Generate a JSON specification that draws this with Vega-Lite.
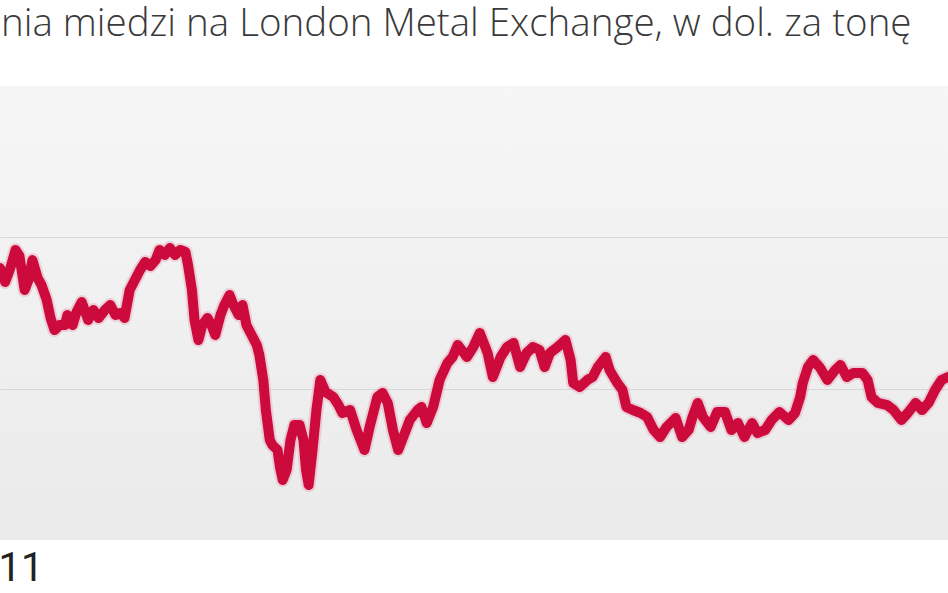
{
  "$schema": "https://vega.github.io/schema/vega-lite/v6.json",
  "width": 948,
  "height": 454,
  "autosize": {"type": "none"},
  "padding": {"top": 86, "left": 0, "right": 0, "bottom": 53},
  "background": "#ffffff",
  "title": {
    "text": "nia miedzi na London Metal Exchange, w dol. za tonę",
    "anchor": "start",
    "frame": "group",
    "orient": "top",
    "baseline": "alphabetic",
    "offset": 12,
    "dx": 1,
    "font": "Open Sans",
    "fontWeight": 300,
    "fontSize": 38.5,
    "color": "#3a3a3a"
  },
  "config": {
    "view": {
      "stroke": null,
      "fill": {"gradient": "linear", "x1": 0, "y1": 0, "x2": 0, "y2": 1,
        "stops": [{"offset": 0, "color": "#f6f6f6"}, {"offset": 1, "color": "#eaeaea"}]}
    }
  },
  "data": {"values": [
    {"date": "2011-02-01", "price": 9595},
    {"date": "2011-02-05", "price": 9410},
    {"date": "2011-02-09", "price": 9595},
    {"date": "2011-02-13", "price": 9833},
    {"date": "2011-02-16", "price": 9753},
    {"date": "2011-02-20", "price": 9304},
    {"date": "2011-02-23", "price": 9436},
    {"date": "2011-02-26", "price": 9700},
    {"date": "2011-03-02", "price": 9463},
    {"date": "2011-03-05", "price": 9370},
    {"date": "2011-03-09", "price": 9172},
    {"date": "2011-03-12", "price": 8934},
    {"date": "2011-03-15", "price": 8775},
    {"date": "2011-03-19", "price": 8841},
    {"date": "2011-03-23", "price": 8841},
    {"date": "2011-03-25", "price": 8974},
    {"date": "2011-03-29", "price": 8841},
    {"date": "2011-04-01", "price": 9013},
    {"date": "2011-04-05", "price": 9145},
    {"date": "2011-04-10", "price": 8908},
    {"date": "2011-04-14", "price": 9040},
    {"date": "2011-04-18", "price": 8934},
    {"date": "2011-04-23", "price": 9040},
    {"date": "2011-04-27", "price": 9106},
    {"date": "2011-05-01", "price": 8974},
    {"date": "2011-05-05", "price": 9000},
    {"date": "2011-05-08", "price": 8934},
    {"date": "2011-05-12", "price": 9304},
    {"date": "2011-05-16", "price": 9436},
    {"date": "2011-05-20", "price": 9568},
    {"date": "2011-05-24", "price": 9674},
    {"date": "2011-05-28", "price": 9621},
    {"date": "2011-06-01", "price": 9700},
    {"date": "2011-06-04", "price": 9833},
    {"date": "2011-06-08", "price": 9767},
    {"date": "2011-06-12", "price": 9859},
    {"date": "2011-06-16", "price": 9767},
    {"date": "2011-06-20", "price": 9833},
    {"date": "2011-06-24", "price": 9806},
    {"date": "2011-06-26", "price": 9634},
    {"date": "2011-06-29", "price": 9304},
    {"date": "2011-07-01", "price": 8908},
    {"date": "2011-07-04", "price": 8643},
    {"date": "2011-07-07", "price": 8841},
    {"date": "2011-07-11", "price": 8934},
    {"date": "2011-07-14", "price": 8841},
    {"date": "2011-07-17", "price": 8709},
    {"date": "2011-07-21", "price": 8974},
    {"date": "2011-07-24", "price": 9106},
    {"date": "2011-07-28", "price": 9238},
    {"date": "2011-07-31", "price": 9106},
    {"date": "2011-08-04", "price": 8974},
    {"date": "2011-08-07", "price": 9106},
    {"date": "2011-08-10", "price": 8841},
    {"date": "2011-08-14", "price": 8709},
    {"date": "2011-08-18", "price": 8577},
    {"date": "2011-08-20", "price": 8445},
    {"date": "2011-08-23", "price": 8115},
    {"date": "2011-08-25", "price": 7718},
    {"date": "2011-08-27", "price": 7454},
    {"date": "2011-08-28", "price": 7322},
    {"date": "2011-08-30", "price": 7256},
    {"date": "2011-09-03", "price": 7189},
    {"date": "2011-09-05", "price": 6952},
    {"date": "2011-09-07", "price": 6793},
    {"date": "2011-09-10", "price": 6925},
    {"date": "2011-09-13", "price": 7322},
    {"date": "2011-09-16", "price": 7520},
    {"date": "2011-09-20", "price": 7520},
    {"date": "2011-09-23", "price": 7322},
    {"date": "2011-09-25", "price": 6925},
    {"date": "2011-09-27", "price": 6727},
    {"date": "2011-09-30", "price": 7189},
    {"date": "2011-10-03", "price": 7718},
    {"date": "2011-10-06", "price": 8115},
    {"date": "2011-10-10", "price": 7956},
    {"date": "2011-10-16", "price": 7890},
    {"date": "2011-10-20", "price": 7784},
    {"date": "2011-10-23", "price": 7678},
    {"date": "2011-10-29", "price": 7718},
    {"date": "2011-11-03", "price": 7454},
    {"date": "2011-11-09", "price": 7189},
    {"date": "2011-11-13", "price": 7493},
    {"date": "2011-11-19", "price": 7890},
    {"date": "2011-11-23", "price": 7943},
    {"date": "2011-11-27", "price": 7811},
    {"date": "2011-12-01", "price": 7454},
    {"date": "2011-12-05", "price": 7189},
    {"date": "2011-12-09", "price": 7361},
    {"date": "2011-12-14", "price": 7586},
    {"date": "2011-12-20", "price": 7718},
    {"date": "2011-12-23", "price": 7758},
    {"date": "2011-12-27", "price": 7546},
    {"date": "2012-01-01", "price": 7758},
    {"date": "2012-01-06", "price": 8115},
    {"date": "2012-01-12", "price": 8339},
    {"date": "2012-01-16", "price": 8419},
    {"date": "2012-01-20", "price": 8577},
    {"date": "2012-01-23", "price": 8511},
    {"date": "2012-01-27", "price": 8419},
    {"date": "2012-02-01", "price": 8551},
    {"date": "2012-02-06", "price": 8736},
    {"date": "2012-02-12", "price": 8471},
    {"date": "2012-02-16", "price": 8154},
    {"date": "2012-02-22", "price": 8419},
    {"date": "2012-02-27", "price": 8551},
    {"date": "2012-03-03", "price": 8604},
    {"date": "2012-03-08", "price": 8286},
    {"date": "2012-03-13", "price": 8471},
    {"date": "2012-03-18", "price": 8551},
    {"date": "2012-03-23", "price": 8511},
    {"date": "2012-03-27", "price": 8286},
    {"date": "2012-03-31", "price": 8471},
    {"date": "2012-04-06", "price": 8551},
    {"date": "2012-04-12", "price": 8643},
    {"date": "2012-04-16", "price": 8379},
    {"date": "2012-04-18", "price": 8075},
    {"date": "2012-04-23", "price": 8022},
    {"date": "2012-04-29", "price": 8115},
    {"date": "2012-05-03", "price": 8154},
    {"date": "2012-05-07", "price": 8286},
    {"date": "2012-05-13", "price": 8419},
    {"date": "2012-05-16", "price": 8247},
    {"date": "2012-05-22", "price": 8075},
    {"date": "2012-05-26", "price": 7982},
    {"date": "2012-05-29", "price": 7758},
    {"date": "2012-06-03", "price": 7718},
    {"date": "2012-06-09", "price": 7678},
    {"date": "2012-06-14", "price": 7626},
    {"date": "2012-06-19", "price": 7454},
    {"date": "2012-06-24", "price": 7361},
    {"date": "2012-06-29", "price": 7493},
    {"date": "2012-07-06", "price": 7612},
    {"date": "2012-07-11", "price": 7361},
    {"date": "2012-07-16", "price": 7454},
    {"date": "2012-07-19", "price": 7626},
    {"date": "2012-07-23", "price": 7811},
    {"date": "2012-07-27", "price": 7626},
    {"date": "2012-08-02", "price": 7493},
    {"date": "2012-08-07", "price": 7692},
    {"date": "2012-08-13", "price": 7692},
    {"date": "2012-08-18", "price": 7454},
    {"date": "2012-08-23", "price": 7546},
    {"date": "2012-08-28", "price": 7361},
    {"date": "2012-09-03", "price": 7546},
    {"date": "2012-09-07", "price": 7414},
    {"date": "2012-09-13", "price": 7454},
    {"date": "2012-09-18", "price": 7586},
    {"date": "2012-09-24", "price": 7692},
    {"date": "2012-10-01", "price": 7586},
    {"date": "2012-10-06", "price": 7678},
    {"date": "2012-10-10", "price": 7890},
    {"date": "2012-10-12", "price": 8075},
    {"date": "2012-10-16", "price": 8286},
    {"date": "2012-10-20", "price": 8379},
    {"date": "2012-10-25", "price": 8286},
    {"date": "2012-10-31", "price": 8115},
    {"date": "2012-11-06", "price": 8247},
    {"date": "2012-11-10", "price": 8313},
    {"date": "2012-11-15", "price": 8154},
    {"date": "2012-11-20", "price": 8207},
    {"date": "2012-11-27", "price": 8207},
    {"date": "2012-12-01", "price": 8115},
    {"date": "2012-12-04", "price": 7890},
    {"date": "2012-12-09", "price": 7811},
    {"date": "2012-12-16", "price": 7784},
    {"date": "2012-12-21", "price": 7718},
    {"date": "2012-12-27", "price": 7586},
    {"date": "2013-01-01", "price": 7678},
    {"date": "2013-01-07", "price": 7811},
    {"date": "2013-01-12", "price": 7718},
    {"date": "2013-01-17", "price": 7811},
    {"date": "2013-01-22", "price": 7982},
    {"date": "2013-01-27", "price": 8115},
    {"date": "2013-02-01", "price": 8154}
  ]},
  "encoding": {
    "x": {
      "field": "date", "type": "temporal",
      "scale": {"domain": ["2011-02-01", "2013-02-01"]},
      "axis": {
        "title": null, "domain": false, "ticks": false, "grid": false,
        "values": ["2011-02-01"], "format": "%y",
        "labelAlign": "left", "labelBaseline": "top", "labelPadding": 8,
        "labelFont": "Roboto", "labelFontSize": 40, "labelColor": "#222222", "labelOffset": -2
      }
    },
    "y": {
      "field": "price", "type": "quantitative",
      "scale": {"domain": [6000, 12000], "nice": false, "zero": false},
      "axis": {
        "title": null, "domain": false, "ticks": false, "labels": false,
        "values": [8000, 10000], "gridColor": "#d8d8d8", "gridWidth": 1.2
      }
    }
  },
  "layer": [
    {"mark": {"type": "line", "color": "#e79aae", "strokeWidth": 14, "opacity": 0.4, "strokeJoin": "round", "strokeCap": "round"}},
    {"mark": {"type": "line", "color": "#cc0a3c", "strokeWidth": 10, "strokeJoin": "round", "strokeCap": "round"}}
  ]
}
